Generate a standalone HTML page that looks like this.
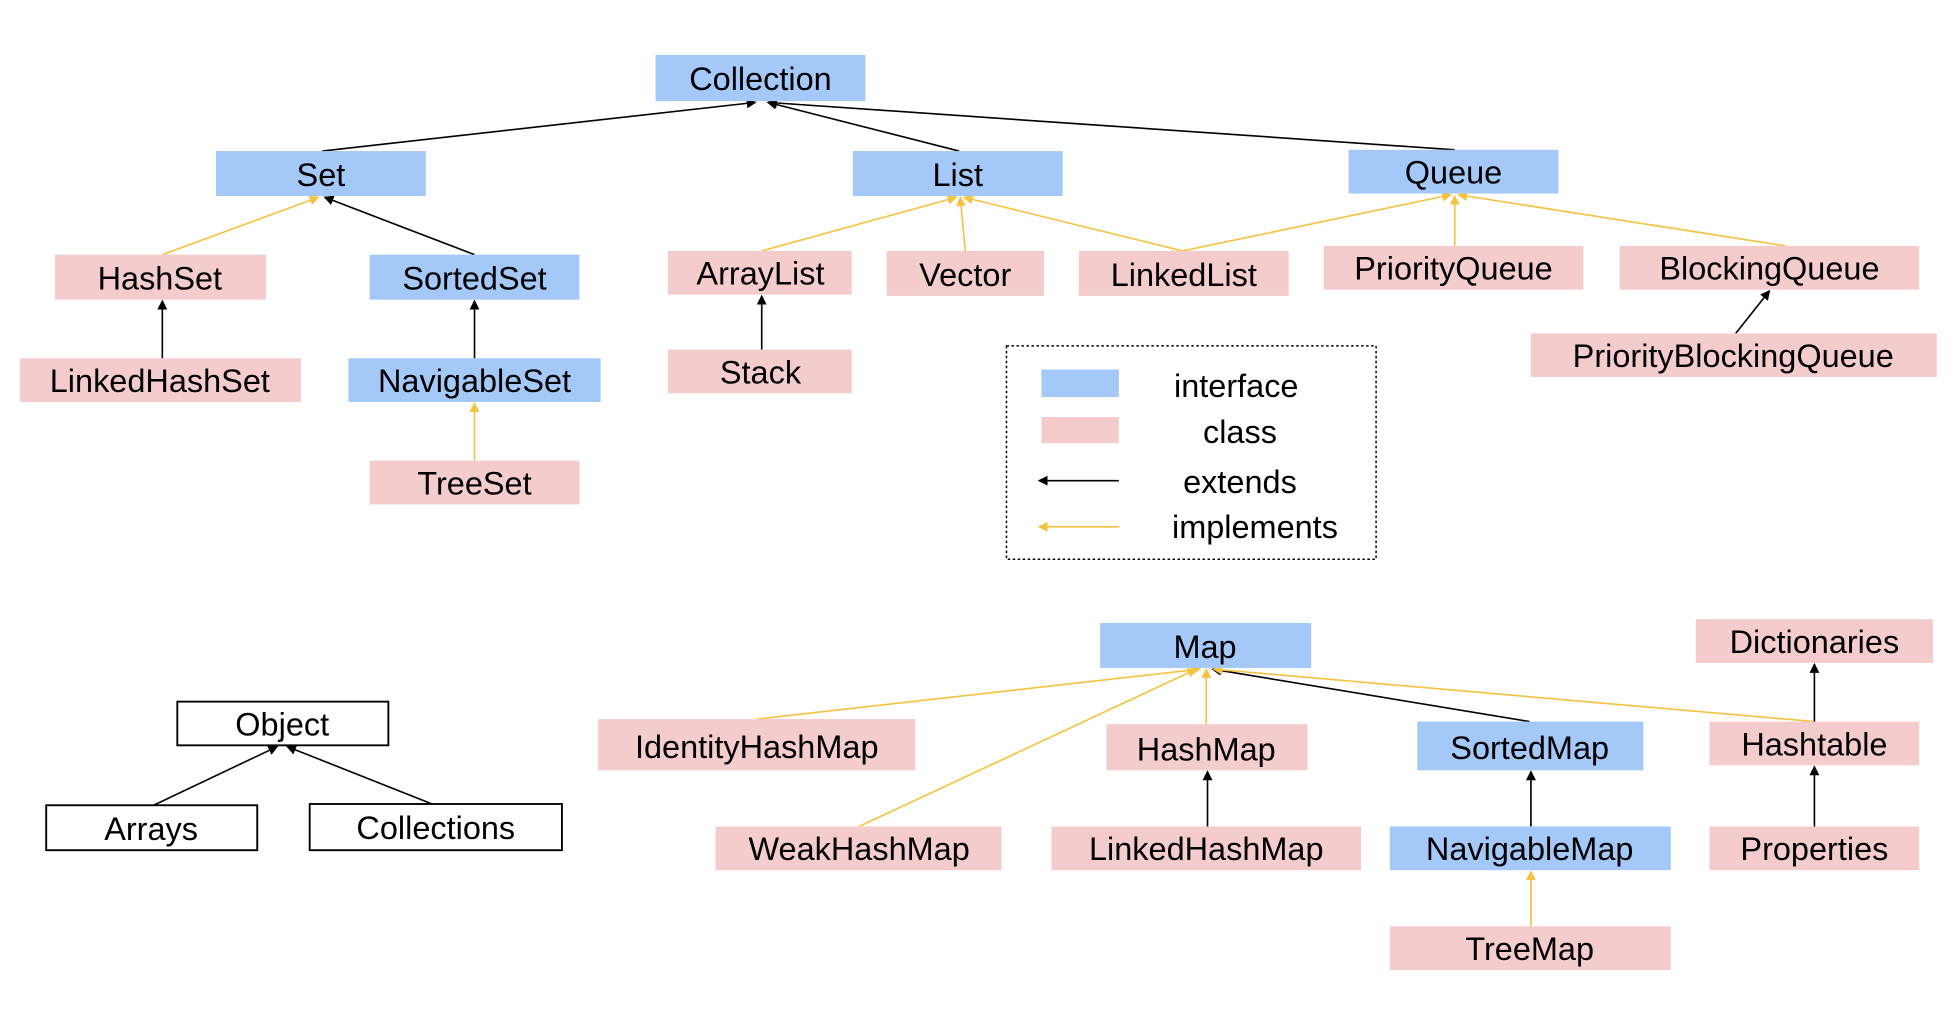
<!DOCTYPE html>
<html><head><meta charset="utf-8"><style>html,body{margin:0;padding:0;background:#fff}svg{display:block}</style></head><body>
<svg width="1958" height="1010" viewBox="0 0 1568 809" preserveAspectRatio="none" xmlns="http://www.w3.org/2000/svg" font-family="Liberation Sans, sans-serif">
<defs>
<marker id="b" markerWidth="8" markerHeight="8" refX="7" refY="4" orient="auto" markerUnits="userSpaceOnUse"><path d="M0,0 L8,4 L0,8 z" fill="#000"/></marker>
<marker id="y" markerWidth="8" markerHeight="8" refX="7" refY="4" orient="auto" markerUnits="userSpaceOnUse"><path d="M0,0 L8,4 L0,8 z" fill="#f5c242"/></marker>
</defs>
<g stroke-width="1.3" fill="none">
<line x1="258" y1="121" x2="605" y2="82" stroke="#000" marker-end="url(#b)"/>
<line x1="768" y1="121" x2="615" y2="82" stroke="#000" marker-end="url(#b)"/>
<line x1="1165" y1="120" x2="615" y2="82" stroke="#000" marker-end="url(#b)"/>
<line x1="130" y1="204" x2="255" y2="158" stroke="#f5c242" marker-end="url(#y)"/>
<line x1="380" y1="204" x2="260" y2="158" stroke="#000" marker-end="url(#b)"/>
<line x1="130" y1="287" x2="130" y2="241" stroke="#000" marker-end="url(#b)"/>
<line x1="380" y1="287" x2="380" y2="241" stroke="#000" marker-end="url(#b)"/>
<line x1="380" y1="369" x2="380" y2="323" stroke="#f5c242" marker-end="url(#y)"/>
<line x1="610" y1="201" x2="766" y2="158" stroke="#f5c242" marker-end="url(#y)"/>
<line x1="773" y1="201" x2="769" y2="158" stroke="#f5c242" marker-end="url(#y)"/>
<line x1="947" y1="201" x2="772" y2="158" stroke="#f5c242" marker-end="url(#y)"/>
<line x1="947" y1="201" x2="1162" y2="156" stroke="#f5c242" marker-end="url(#y)"/>
<line x1="1165" y1="197" x2="1165" y2="157" stroke="#f5c242" marker-end="url(#y)"/>
<line x1="1430" y1="197" x2="1168" y2="156" stroke="#f5c242" marker-end="url(#y)"/>
<line x1="610" y1="280" x2="610" y2="237" stroke="#000" marker-end="url(#b)"/>
<line x1="1390" y1="267" x2="1417" y2="233" stroke="#000" marker-end="url(#b)"/>
<line x1="606" y1="576" x2="961" y2="536" stroke="#f5c242" marker-end="url(#y)"/>
<line x1="688" y1="662" x2="958" y2="536" stroke="#f5c242" marker-end="url(#y)"/>
<line x1="966" y1="580" x2="966" y2="536" stroke="#f5c242" marker-end="url(#y)"/>
<line x1="1225" y1="578" x2="971" y2="536" stroke="#000" marker-end="url(#b)"/>
<line x1="1453" y1="578" x2="972" y2="536" stroke="#f5c242" marker-end="url(#y)"/>
<line x1="1453" y1="578" x2="1453" y2="532" stroke="#000" marker-end="url(#b)"/>
<line x1="967" y1="662" x2="967" y2="618" stroke="#000" marker-end="url(#b)"/>
<line x1="1226" y1="662" x2="1226" y2="618" stroke="#000" marker-end="url(#b)"/>
<line x1="1453" y1="662" x2="1453" y2="614" stroke="#000" marker-end="url(#b)"/>
<line x1="1226" y1="742" x2="1226" y2="698" stroke="#f5c242" marker-end="url(#y)"/>
<line x1="123" y1="645" x2="222" y2="598" stroke="#000" marker-end="url(#b)"/>
<line x1="346" y1="644" x2="230" y2="598" stroke="#000" marker-end="url(#b)"/>
<line x1="896" y1="385" x2="832" y2="385" stroke="#000" marker-end="url(#b)"/>
<line x1="896" y1="422" x2="832" y2="422" stroke="#f5c242" marker-end="url(#y)"/>
</g>
<rect x="806" y="277" width="296" height="171" fill="none" stroke="#000" stroke-width="1.2" stroke-dasharray="2,2"/>
<rect x="834" y="296" width="62" height="22" fill="#a4c8f8"/>
<rect x="834" y="334" width="62" height="21" fill="#f4cccc"/>
<g font-size="26" fill="#000" text-anchor="middle">
<text x="990" y="318">interface</text>
<text x="993" y="355">class</text>
<text x="993" y="395">extends</text>
<text x="1005" y="431">implements</text>
</g>
<g font-size="26" text-anchor="middle" fill="#000">
<rect x="525" y="44" width="168" height="37" fill="#a4c8f8"/><text x="609" y="72">Collection</text>
<rect x="173" y="121" width="168" height="36" fill="#a4c8f8"/><text x="257" y="149">Set</text>
<rect x="683" y="121" width="168" height="36" fill="#a4c8f8"/><text x="767" y="149">List</text>
<rect x="1080" y="120" width="168" height="35" fill="#a4c8f8"/><text x="1164" y="147">Queue</text>
<rect x="44" y="204" width="169" height="36" fill="#f4cccc"/><text x="128" y="232">HashSet</text>
<rect x="296" y="204" width="168" height="36" fill="#a4c8f8"/><text x="380" y="232">SortedSet</text>
<rect x="16" y="287" width="225" height="35" fill="#f4cccc"/><text x="128" y="314">LinkedHashSet</text>
<rect x="279" y="287" width="202" height="35" fill="#a4c8f8"/><text x="380" y="314">NavigableSet</text>
<rect x="296" y="369" width="168" height="35" fill="#f4cccc"/><text x="380" y="396">TreeSet</text>
<rect x="535" y="201" width="147" height="35" fill="#f4cccc"/><text x="609" y="228">ArrayList</text>
<rect x="710" y="201" width="126" height="36" fill="#f4cccc"/><text x="773" y="229">Vector</text>
<rect x="864" y="201" width="168" height="36" fill="#f4cccc"/><text x="948" y="229">LinkedList</text>
<rect x="1060" y="197" width="208" height="35" fill="#f4cccc"/><text x="1164" y="224">PriorityQueue</text>
<rect x="1297" y="197" width="240" height="35" fill="#f4cccc"/><text x="1417" y="224">BlockingQueue</text>
<rect x="1226" y="267" width="325" height="35" fill="#f4cccc"/><text x="1388" y="294">PriorityBlockingQueue</text>
<rect x="535" y="280" width="147" height="35" fill="#f4cccc"/><text x="609" y="307">Stack</text>
<rect x="881" y="499" width="169" height="36" fill="#a4c8f8"/><text x="965" y="527">Map</text>
<rect x="1358" y="496" width="190" height="35" fill="#f4cccc"/><text x="1453" y="523">Dictionaries</text>
<rect x="142" y="562" width="169" height="35" fill="#fff" stroke="#000" stroke-width="1.5"/><text x="226" y="589">Object</text>
<rect x="37" y="645" width="169" height="36" fill="#fff" stroke="#000" stroke-width="1.5"/><text x="121" y="673">Arrays</text>
<rect x="248" y="644" width="202" height="37" fill="#fff" stroke="#000" stroke-width="1.5"/><text x="349" y="672">Collections</text>
<rect x="479" y="576" width="254" height="41" fill="#f4cccc"/><text x="606" y="607">IdentityHashMap</text>
<rect x="886" y="580" width="161" height="37" fill="#f4cccc"/><text x="966" y="609">HashMap</text>
<rect x="1135" y="578" width="181" height="39" fill="#a4c8f8"/><text x="1225" y="608">SortedMap</text>
<rect x="1369" y="578" width="168" height="35" fill="#f4cccc"/><text x="1453" y="605">Hashtable</text>
<rect x="573" y="662" width="229" height="35" fill="#f4cccc"/><text x="688" y="689">WeakHashMap</text>
<rect x="842" y="662" width="248" height="35" fill="#f4cccc"/><text x="966" y="689">LinkedHashMap</text>
<rect x="1113" y="662" width="225" height="35" fill="#a4c8f8"/><text x="1225" y="689">NavigableMap</text>
<rect x="1369" y="662" width="168" height="35" fill="#f4cccc"/><text x="1453" y="689">Properties</text>
<rect x="1113" y="742" width="225" height="35" fill="#f4cccc"/><text x="1225" y="769">TreeMap</text>
</g>
</svg>
</body></html>
